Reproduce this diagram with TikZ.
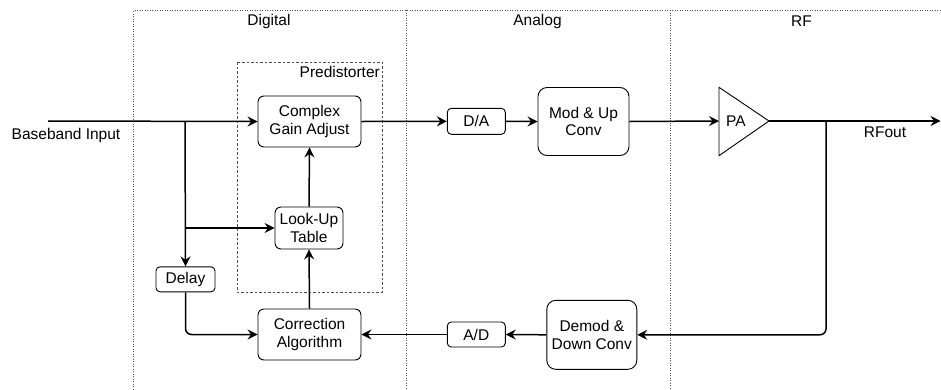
\documentclass[tikz,border=0pt]{standalone}
\usepackage{fontspec}
\setmainfont{Liberation Sans}
\usetikzlibrary{arrows.meta}
\begin{document}
\begin{tikzpicture}[x=1pt,y=-1pt,
  font=\fontsize{15.5}{17.5}\selectfont,
  blk/.style={draw=black, line width=0.9pt, rounded corners=6pt, align=center, inner sep=0pt, fill=white},
  txt/.style={inner sep=0pt, align=center},
  conn/.style={line width=1.5pt, -{Stealth[length=10pt,width=10pt,inset=3.5pt]}},
  region/.style={draw=black!70, line width=0.5pt, dotted},
  predist/.style={draw=black!70, line width=0.8pt, dash pattern=on 2.5pt off 2pt}]
\useasboundingbox (0,0) rectangle (941,389);
% regions
\draw[region] (133.5,389) -- (133.5,10) -- (941,10);
\draw[region] (406,10) -- (406,389);
\draw[region] (670,10) -- (670,389);
\node[txt] (ldig) at (269,21) {Digital};
\node[txt] (lana) at (537.5,21) {Analog};
\node[txt] (lrf) at (801.5,21) {RF};
% predistorter
\draw[predist] (237,62) rectangle (382,292);
\node[txt, anchor=east] (lpd) at (380,72) {Predistorter};
% blocks
\node[blk, minimum width=103pt, minimum height=51pt] (cga) at (309.5,121.5) {Complex\\Gain Adjust};
\node[blk, minimum width=68pt, minimum height=42pt] (lut) at (309,228) {Look-Up\\Table};
\node[blk, minimum width=59pt, minimum height=25pt, rounded corners=4pt] (delay) at (185.5,279.3) {Delay};
\node[blk, minimum width=103pt, minimum height=51pt] (ca) at (309.5,334.5) {Correction\\Algorithm};
\node[blk, minimum width=58pt, minimum height=26pt, rounded corners=4pt] (da) at (476.3,121.3) {D/A};
\node[blk, minimum width=91pt, minimum height=68pt, rounded corners=9pt] (mod) at (583.5,121.5) {Mod \& Up\\Conv};
\node[blk, minimum width=58pt, minimum height=25pt, rounded corners=4pt] (ad) at (476.3,334.5) {A/D};
\node[blk, minimum width=90pt, minimum height=69pt, rounded corners=9pt] (demod) at (591.8,334.8) {Demod \&\\Down Conv};
% PA triangle
\coordinate (pain) at (719,121);
\coordinate (paout) at (769,121);
\draw[line width=0.9pt] (719,87.3) -- (paout) -- (719,155.7) -- cycle;
\node[txt] (pa) at (736,121.5) {PA};
% texts
\node[txt] (bbin) at (66,135.5) {Baseband Input};
\node[txt] (rfout) at (885,132) {RFout};
% coordinates
\coordinate (start) at (48,121);
\coordinate (branch) at (185,121);
\coordinate (tap) at (826,121);
\coordinate (out) at (940.5,121);
% connectors
\draw[conn] (start) -- (cga.west);
\draw[conn] (branch) -- (delay.north);
\draw[conn] (branch |- lut.west) -- (lut.west);
\draw[conn] (lut.north) -- (cga.south);
\draw[conn] (ca.north) -- (lut.south);
\draw[conn, rounded corners=6pt] (delay.south) |- (ca.west);
\draw[conn] (cga.east) -- (da.west);
\draw[conn] (da.east) -- (mod.west);
\draw[conn] (mod.east) -- (pain);
\draw[conn] (paout) -- (out);
\draw[conn, rounded corners=6pt] (tap) |- (demod.east);
\draw[conn] (demod.west) -- (ad.east);
\draw[conn] (ad.west) -- (ca.east);
\end{tikzpicture}
\end{document}
